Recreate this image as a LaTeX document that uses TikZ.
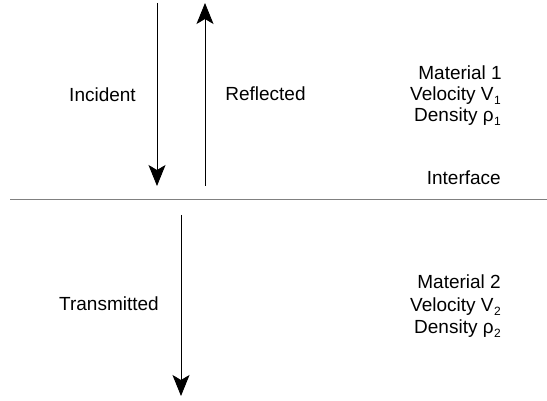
\documentclass[tikz,border=0pt]{standalone}
\usepackage{fontspec}
\setmainfont{Liberation Sans}
\usetikzlibrary{arrows.meta}
\newcommand{\lowsub}[1]{\kern0.5pt\raisebox{-3.5pt}{\fontsize{12}{12}\selectfont #1}}

\begin{document}
\begin{tikzpicture}[x=1pt, y=-1pt,
  wave/.style={-{Stealth[length=21pt, width=17pt, inset=5pt]}, line width=0.9pt},
  lbl/.style={font=\fontsize{19}{22}\selectfont, inner sep=0pt, anchor=base},
  prop/.style={lbl, anchor=base east}]
\useasboundingbox (0,0) rectangle (547,401);
% Incident wave coming down to the interface
\coordinate (inc top) at (157,3);
\coordinate (inc bot) at (157,186);
\draw[wave] (inc top) -- (inc bot);
\node[lbl] (incident) at (102.5,102) {Incident};
% Reflected wave going back up
\coordinate (ref bot) at (205,186);
\coordinate (ref top) at (205,3);
\draw[wave] (ref bot) -- (ref top);
\node[lbl] (reflected) at (265.5,101) {Reflected};
% Interface between the two materials
\coordinate (if left) at (10,199);
\coordinate (if right) at (547,199);
\draw[gray, line width=0.9pt] (if left) -- (if right);
\node[prop] (interface) at (501,185) {Interface};
% Material above
\node[prop] (mat1) at (502,80) {Material 1};
\node[prop] (vel1) at (501,101) {Velocity V\lowsub{1}};
\node[prop] (den1) at (501,122) {Density ρ\lowsub{1}};
% Transmitted wave in the second material
\coordinate (tra top) at (181,215);
\coordinate (tra bot) at (181,396);
\draw[wave] (tra top) -- (tra bot);
\node[lbl] (transmitted) at (109,311) {Transmitted};
% Material below
\node[prop] (mat2) at (501,288) {Material 2};
\node[prop] (vel2) at (501,312) {Velocity V\lowsub{2}};
\node[prop] (den2) at (501,334) {Density ρ\lowsub{2}};
\end{tikzpicture}
\end{document}
